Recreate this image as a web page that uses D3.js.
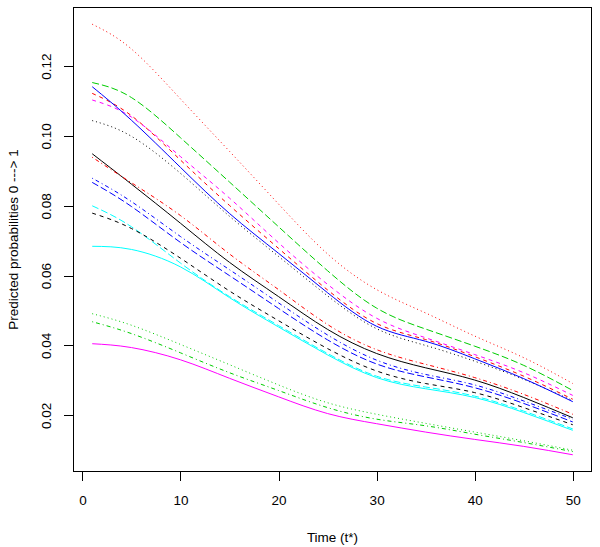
<!DOCTYPE html>
<html><head><meta charset="utf-8">
<script src="https://cdn.jsdelivr.net/npm/d3@7"></script>
<style>
body{margin:0;background:#fff;}
text{font-family:"Liberation Sans",Arial,Helvetica,sans-serif;}
</style></head>
<body><svg id="chart" width="600" height="547"></svg>
<script>
// time points (t*)
const times = [1,5,10,15,20,25,30,35,40,45,50];
// predicted probabilities per curve (matplot column order)
const s01 = [.0949,.0862,.0750,.0638,.0540,.0446,.0377,.0336,.0301,.0251,.0193];
const s02 = [.1122,.1058,.0931,.0801,.0678,.0559,.0463,.0417,.0368,.0312,.0246];
const s03 = [.0491,.0458,.0403,.0345,.0287,.0236,.0203,.0177,.0152,.0127,.0100];
const s04 = [.0879,.0812,.0712,.0617,.0522,.0430,.0358,.0317,.0287,.0241,.0189];
const s05 = [.0800,.0740,.0636,.0540,.0457,.0377,.0312,.0281,.0255,.0212,.0161];
const s06 = [.0405,.0394,.0359,.0306,.0253,.0205,.0176,.0152,.0131,.0111,.0087];
const s07 = [.0779,.0735,.0650,.0556,.0471,.0391,.0327,.0291,.0265,.0222,.0173];
const s08 = [.1320,.1249,.1106,.0956,.0805,.0662,.0560,.0493,.0427,.0365,.0291];
const s09 = [.0468,.0434,.0379,.0322,.0271,.0222,.0189,.0170,.0146,.0122,.0096];
const s10 = [.0867,.0798,.0695,.0600,.0506,.0416,.0347,.0310,.0279,.0234,.0181];
const s11 = [.0684,.0675,.0625,.0537,.0453,.0373,.0308,.0276,.0251,.0208,.0157];
const s12 = [.1103,.1054,.0941,.0822,.0694,.0575,.0478,.0422,.0374,.0322,.0257];
const s13 = [.1044,.0999,.0893,.0770,.0655,.0542,.0448,.0400,.0355,.0303,.0242];
const s14 = [.0939,.0866,.0772,.0662,.0560,.0460,.0388,.0346,.0308,.0260,.0203];
const s15 = [.1153,.1110,.0995,.0868,.0740,.0614,.0507,.0447,.0398,.0343,.0271];
const s16 = [.1141,.1045,.0910,.0778,.0664,.0551,.0455,.0412,.0362,.0305,.0239];
const xTicks = [0,10,20,30,40,50];
const yTicks = [0.02,0.04,0.06,0.08,0.10,0.12];
const xTitle = "Time (t*)";
const yTitle = "Predicted probabilities 0 ---> 1";

const series = [s01,s02,s03,s04,s05,s06,s07,s08,s09,s10,s11,s12,s13,s14,s15,s16];
// styles (R matplot defaults: col 1:6, lty 1:5)
const palette = ["#000000","#FF0000","#00CD00","#0000FF","#00FFFF","#FF00FF"];
const dashes = [null,"4,4","1,3","1,3,4,3","7,3"];

const W=600,H=547, L=73, R=592, T=7, B=472;
const svg = d3.select("#chart");
svg.append("rect").attr("width",W).attr("height",H).attr("fill","#fff");

const xmin=d3.min(times), xmax=d3.max(times), xr=xmax-xmin;
const all = series.flat();
const ymin=d3.min(all), ymax=d3.max(all), yr=ymax-ymin;
const x = d3.scaleLinear().domain([xmin-0.04*xr, xmax+0.04*xr]).range([L,R]);
const y = d3.scaleLinear().domain([ymin-0.04*yr, ymax+0.04*yr]).range([B,T]);

const line = d3.line().x(d=>x(d[0])).y(d=>y(d[1])).curve(d3.curveNatural);
series.forEach((s,i)=>{
  const p = svg.append("path")
    .attr("d", line(times.map((t,j)=>[t,s[j]])))
    .attr("fill","none")
    .attr("stroke", palette[i%6])
    .attr("stroke-width",1);
  const da = dashes[i%5];
  if(da) p.attr("stroke-dasharray", da);
});

// box
svg.append("rect").attr("x",L+0.5).attr("y",T+0.5).attr("width",R-L-1).attr("height",B-T-1)
  .attr("fill","none").attr("stroke","#000").attr("stroke-width",1);

// x axis
const xa = svg.append("g").attr("transform",`translate(0,${B})`)
  .call(d3.axisBottom(x).tickValues(xTicks).tickFormat(d3.format("d")).tickSize(9).tickPadding(14));
xa.select(".domain").remove();
xa.selectAll("line").attr("stroke","#000").attr("shape-rendering","crispEdges");
xa.selectAll("text").attr("font-size","13.5px").attr("fill","#000")
  .attr("font-family","'Liberation Sans',Arial,sans-serif");

// y axis
const ya = svg.append("g").attr("transform",`translate(${L},0)`)
  .call(d3.axisLeft(y).tickValues(yTicks).tickFormat(d3.format(".2f")).tickSize(9).tickPadding(0));
ya.select(".domain").remove();
ya.selectAll("line").attr("stroke","#000").attr("shape-rendering","crispEdges");
ya.selectAll("text").attr("font-size","13.5px").attr("fill","#000")
  .attr("font-family","'Liberation Sans',Arial,sans-serif")
  .attr("text-anchor","middle").attr("dy","0")
  .attr("x",0).attr("y",0)
  .attr("transform",`translate(${46+5-L},0) rotate(-90)`);

// titles
svg.append("text").attr("x",(L+R)/2).attr("y",542).attr("text-anchor","middle")
  .attr("font-size","13.5px").text(xTitle);
svg.append("text").attr("transform",`translate(18,${(T+B)/2}) rotate(-90)`)
  .attr("text-anchor","middle").attr("font-size","13.5px").text(yTitle);
</script></body></html>
